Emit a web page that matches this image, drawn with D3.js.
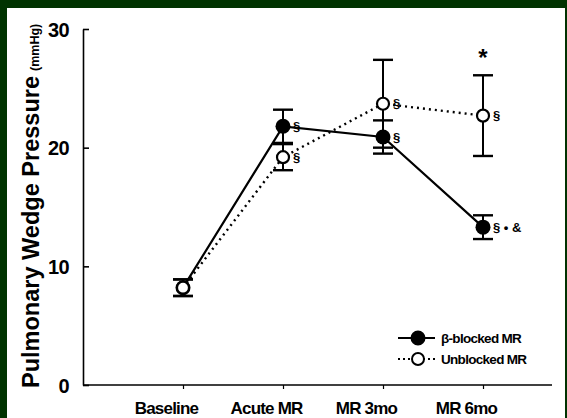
<!DOCTYPE html>
<html>
<head>
<meta charset="utf-8">
<script src="https://cdn.jsdelivr.net/npm/d3@7"></script>
<style>
  html, body { margin: 0; padding: 0; background: #003300; }
  svg { display: block; }
  text { font-family: "Liberation Sans", Arial, Helvetica, sans-serif; }
</style>
</head>
<body>
<svg id="chart" width="567" height="418"></svg>
<script>
// Pulmonary wedge pressure over time, β-blocked vs unblocked mitral regurgitation
const categories = ["Baseline", "Acute MR", "MR 3mo", "MR 6mo"];
const blockedMean = [8.2, 21.8, 20.9, 13.3];
const blockedErr = [0.7, 1.4, 1.4, 1.0];
const unblockedMean = [8.2, 19.2, 23.7, 22.7];
const unblockedErr = [0.7, 1.1, 3.7, 3.4];
const blockedNotes = ["", "§", "§", "§ • &"];
const unblockedNotes = ["", "§", "§", "§"];
const groupMarks = ["", "", "", "*"];
const yTicks = [0, 10, 20, 30];
const seriesNames = ["β-blocked MR", "Unblocked MR"];

const svg = d3.select("#chart");

// white panel on the green backdrop
svg.append("rect").attr("x", 7).attr("y", 8).attr("width", 558).attr("height", 410).attr("fill", "#fff");

const x = d3.scalePoint().domain(categories).range([183, 483]);
const y = d3.scaleLinear().domain([0, 30]).range([385, 29]);

// y axis
const yAxis = svg.append("g").attr("transform", "translate(83,0)")
  .call(d3.axisLeft(y).tickValues(yTicks).tickSizeInner(-6).tickSizeOuter(0).tickPadding(14));
yAxis.select(".domain").attr("stroke", "#000").attr("stroke-width", 1.6);
yAxis.selectAll(".tick line").attr("stroke", "#000").attr("stroke-width", 1.6);
yAxis.selectAll(".tick text").attr("fill", "#000").attr("font-size", 20).attr("font-weight", "bold")
  .attr("letter-spacing", -0.6).attr("dy", "0.35em");

// x axis
svg.append("line").attr("x1", 83).attr("x2", 552).attr("y1", y(0)).attr("y2", y(0))
  .attr("stroke", "#000").attr("stroke-width", 1.6);
const xAxis = svg.append("g").attr("transform", `translate(0,${y(0)})`)
  .call(d3.axisBottom(x).tickSizeInner(4).tickSizeOuter(0).tickPadding(13));
xAxis.select(".domain").remove();
xAxis.selectAll(".tick line").attr("stroke", "#000").attr("stroke-width", 1.2);
xAxis.selectAll(".tick text").attr("fill", "#000").attr("font-size", 17).attr("font-weight", "bold")
  .attr("letter-spacing", -0.8).attr("dx", -17);

// y axis title
const title = svg.append("text")
  .attr("transform", "translate(39,388) rotate(-90)")
  .attr("font-weight", "bold").attr("fill", "#000");
title.append("tspan").attr("font-size", 24).attr("textLength", 312).attr("lengthAdjust", "spacingAndGlyphs")
  .text("Pulmonary Wedge Pressure");
title.append("tspan").attr("font-size", 12.5).attr("dx", 5).text("(mmHg)");

const blocked = categories.map((c, i) => ({ c, m: blockedMean[i], e: blockedErr[i], note: blockedNotes[i] }));
const unblocked = categories.map((c, i) => ({ c, m: unblockedMean[i], e: unblockedErr[i], note: unblockedNotes[i] }));

const line = d3.line().x(d => x(d.c)).y(d => y(d.m));

svg.append("path").datum(blocked).attr("d", line)
  .attr("fill", "none").attr("stroke", "#000").attr("stroke-width", 2.2);
svg.append("path").datum(unblocked).attr("d", line)
  .attr("fill", "none").attr("stroke", "#000").attr("stroke-width", 2.4).attr("stroke-dasharray", "2,4");

// error bars
function errorBars(data) {
  const g = svg.append("g").attr("stroke", "#000").attr("stroke-width", 2);
  data.forEach(d => {
    const cx = x(d.c);
    g.append("line").attr("x1", cx).attr("x2", cx).attr("y1", y(d.m - d.e)).attr("y2", y(d.m + d.e));
    [d.m - d.e, d.m + d.e].forEach(v => {
      g.append("line").attr("x1", cx - 10).attr("x2", cx + 10).attr("y1", y(v)).attr("y2", y(v)).attr("stroke-width", 2.4);
    });
  });
}
errorBars(blocked);
errorBars(unblocked);

// points
svg.append("g").selectAll("circle").data(blocked).join("circle")
  .attr("cx", d => x(d.c)).attr("cy", d => y(d.m)).attr("r", 7.5).attr("fill", "#000");
svg.append("g").selectAll("circle").data(unblocked).join("circle")
  .attr("cx", d => x(d.c)).attr("cy", d => y(d.m)).attr("r", 6).attr("fill", "#fff")
  .attr("stroke", "#000").attr("stroke-width", 2.2);

// significance notes beside points
function notes(data) {
  svg.append("g").selectAll("text").data(data.filter(d => d.note)).join("text")
    .attr("x", d => x(d.c) + 10).attr("y", d => y(d.m)).attr("dy", "0.35em")
    .attr("font-size", 13).attr("font-weight", "bold").attr("fill", "#000").text(d => d.note);
}
notes(blocked);
notes(unblocked);

// group-level mark above the unblocked error bar
svg.append("g").selectAll("text").data(categories.map((c, i) => ({ c, t: groupMarks[i], top: unblockedMean[i] + unblockedErr[i] })).filter(d => d.t))
  .join("text").attr("x", d => x(d.c)).attr("y", d => y(d.top) - 9).attr("text-anchor", "middle")
  .attr("font-size", 24).attr("font-weight", "bold").attr("fill", "#000").text(d => d.t);

// legend
const legend = svg.append("g").attr("transform", "translate(398,338)");
seriesNames.forEach((name, i) => {
  const g = legend.append("g").attr("transform", `translate(0,${i * 21})`);
  g.append("line").attr("x1", 0).attr("x2", 37).attr("y1", 0).attr("y2", 0).attr("stroke", "#000")
    .attr("stroke-width", i === 0 ? 2 : 2.2).attr("stroke-dasharray", i === 0 ? null : "2,3");
  g.append("circle").attr("cx", 20).attr("cy", 0).attr("r", i === 0 ? 6.5 : 6)
    .attr("fill", i === 0 ? "#000" : "#fff").attr("stroke", "#000").attr("stroke-width", 2);
  g.append("text").attr("x", 43).attr("y", 0).attr("dy", "0.35em").attr("font-size", 13.5)
    .attr("font-weight", "bold").attr("letter-spacing", -0.7).attr("fill", "#000").text(name);
});
</script>
</body>
</html>
